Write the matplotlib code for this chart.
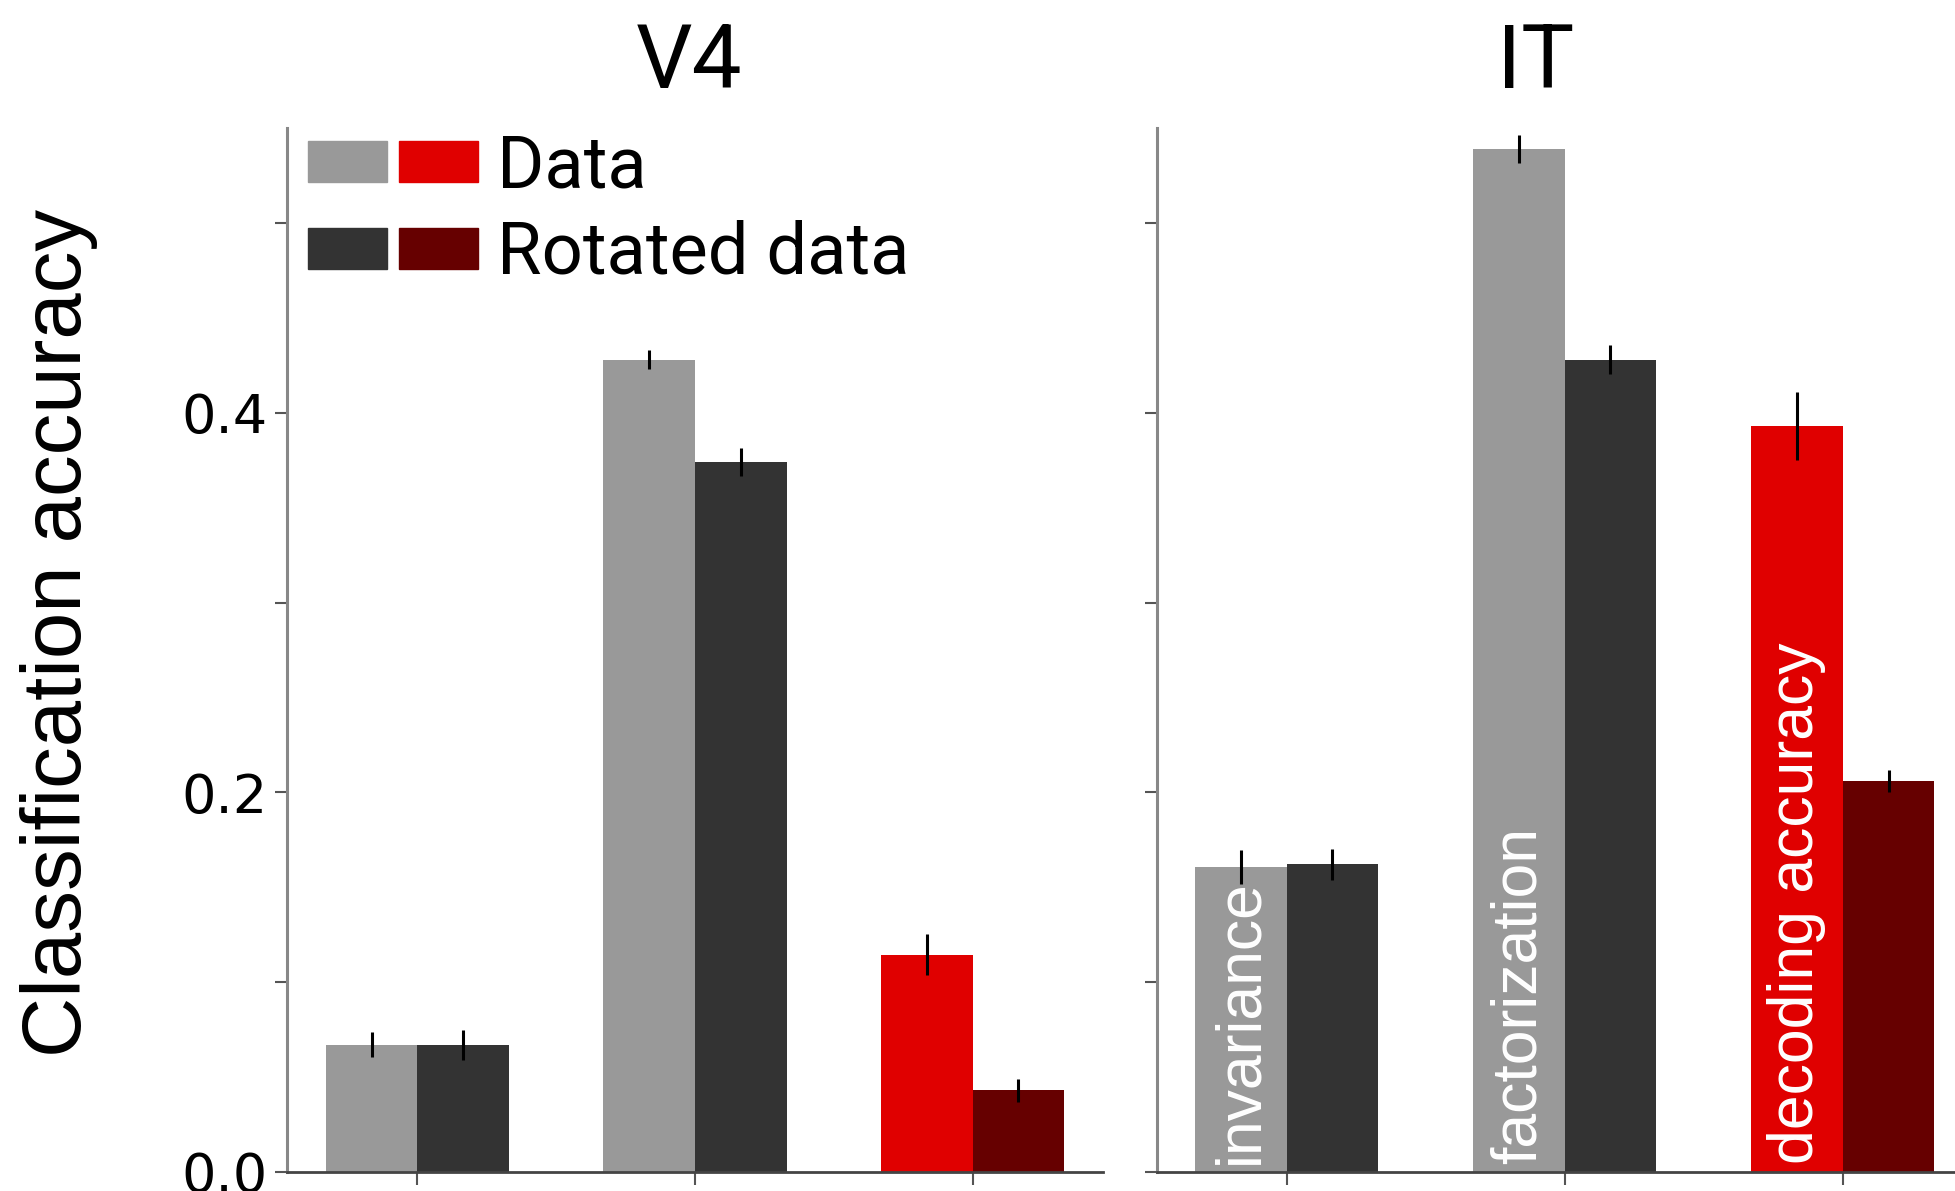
import matplotlib
matplotlib.use("Agg")
import matplotlib.pyplot as plt
from matplotlib.patches import Patch
from matplotlib.legend_handler import HandlerTuple

# valeurs
groupes = ["invariance", "factorization", "decoding accuracy"]
v4_data = [0.067, 0.428, 0.1145]
v4_data_err = [0.0066, 0.005, 0.011]
v4_rot = [0.067, 0.374, 0.043]
v4_rot_err = [0.008, 0.0075, 0.006]
it_data = [0.1605, 0.539, 0.393]
it_data_err = [0.009, 0.0075, 0.018]
it_rot = [0.162, 0.428, 0.206]
it_rot_err = [0.008, 0.0075, 0.006]

gris_clair = "#999999"
gris_fonce = "#333333"
rouge = "#e00000"
rouge_fonce = "#660000"
couleurs_data = [gris_clair, gris_clair, rouge]
couleurs_rot = [gris_fonce, gris_fonce, rouge_fonce]

largeur = 0.33
pos = list(range(len(groupes)))

fig = plt.figure(figsize=(19.55, 11.91), dpi=100)
ax1 = fig.add_axes([0.1468, 0.016, 0.4174, 0.8765])
ax2 = fig.add_axes([0.5918, 0.016, 0.4082, 0.8765])


def panneau(ax, data, data_err, rot, rot_err, titre, xlim, tx):
    ax.bar([p - largeur / 2 for p in pos], data, width=largeur, color=couleurs_data,
           yerr=data_err, error_kw={"elinewidth": 2.2, "ecolor": "black", "capsize": 0})
    ax.bar([p + largeur / 2 for p in pos], rot, width=largeur, color=couleurs_rot,
           yerr=rot_err, error_kw={"elinewidth": 2.2, "ecolor": "black", "capsize": 0})
    ax.set_xlim(*xlim)
    ax.set_ylim(0, 0.55)
    ax.set_xticks(pos)
    ax.set_xticklabels([])
    ax.set_yticks([0.0, 0.1, 0.2, 0.3, 0.4, 0.5])
    ax.spines["top"].set_visible(False)
    ax.spines["right"].set_visible(False)
    ax.spines["left"].set_color("#888888")
    ax.spines["left"].set_linewidth(2.2)
    ax.spines["bottom"].set_color("#444444")
    ax.spines["bottom"].set_linewidth(2)
    ax.tick_params(axis="y", length=9, width=1.5, color="#555555", labelsize=39, pad=5)
    ax.tick_params(axis="x", length=9, width=1.5, color="#555555")
    ax.set_title(titre, fontsize=64, family="Roboto", x=tx, pad=29)


panneau(ax1, v4_data, v4_data_err, v4_rot, v4_rot_err, "V4", (-0.47, 2.47), 0.493)
panneau(ax2, it_data, it_data_err, it_rot, it_rot_err, "IT", (-0.466, 2.404), 0.475)

ax1.set_yticklabels(["0.0", "", "0.2", "", "0.4", ""], family="DejaVu Sans")
ax2.set_yticklabels([])

# noms des groupes dans les barres IT
for p, nom in zip(pos, groupes):
    ax2.text(p - largeur / 2, 0.004, nom, rotation=90, ha="center", va="bottom",
             color="white", fontsize=45, family="Liberation Sans")

fig.text(0.030, 0.4685, "Classification accuracy", rotation=90, ha="center",
         va="center", fontsize=60, family="Liberation Sans")

poignees = [(Patch(color=gris_clair), Patch(color=rouge)),
            (Patch(color=gris_fonce), Patch(color=rouge_fonce))]
ax1.legend(poignees, ["Data", "Rotated data"], loc="upper left",
           bbox_to_anchor=(0.026, 0.995), frameon=False, borderpad=0, borderaxespad=0,
           handler_map={tuple: HandlerTuple(ndivide=None, pad=0.173)},
           handlelength=2.35, handleheight=0.51, handletextpad=0.26,
           labelspacing=0.245, prop={"family": "Roboto", "size": 52})

fig.savefig("out.png", dpi=100)
